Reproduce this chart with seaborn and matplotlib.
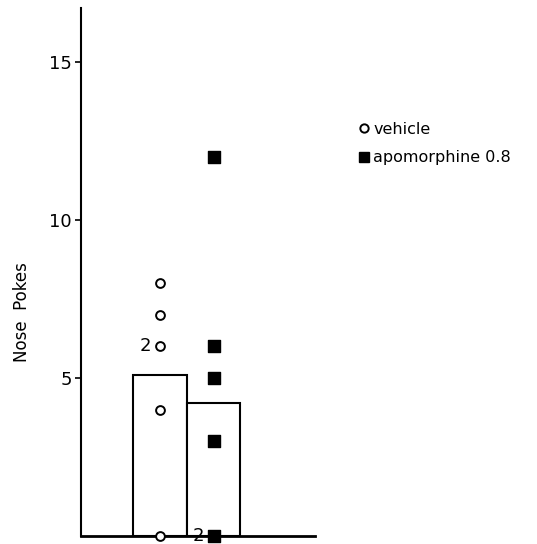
import matplotlib
matplotlib.use("Agg")
import matplotlib.pyplot as plt
import seaborn as sns
import pandas as pd
from matplotlib.lines import Line2D

# ── data ─────────────────────────────────────────────────────
groups       = ["vehicle", "apomorphine 0.8"]
bar_heights  = [5.1, 4.2]
vehicle_vals = [8, 7, 6, 4, 0]
vehicle_n    = [1, 1, 2, 1, 1]
apo_vals     = [12, 6, 5, 3, 0]
apo_n        = [1, 1, 1, 1, 2]
yticks       = [5, 10, 15]

sns.set_theme(style="white")
plt.rcParams["font.family"] = ["DejaVu Sans"]
plt.rcParams["text.color"] = "black"
plt.rcParams["axes.labelcolor"] = "black"

fig = plt.figure(figsize=(5.37, 5.44), dpi=100)
ax = fig.add_axes([0.151, 0.0147, 0.436, 0.9706])

bars = pd.DataFrame({"group": groups, "mean": bar_heights})
sns.barplot(data=bars, x="group", y="mean", color="white", edgecolor="black",
            linewidth=1.5, width=1.0, errorbar=None, ax=ax, zorder=1)

pts = pd.DataFrame({
    "x": [0] * len(vehicle_vals) + [1] * len(apo_vals),
    "y": vehicle_vals + apo_vals,
    "n": vehicle_n + apo_n,
    "group": [groups[0]] * len(vehicle_vals) + [groups[1]] * len(apo_vals),
})
veh = pts[pts["group"] == groups[0]]
apo = pts[pts["group"] == groups[1]]
ax.scatter(veh["x"], veh["y"], marker="o", s=40, facecolor="white",
           edgecolor="black", linewidth=1.4, zorder=3, clip_on=False)
ax.scatter(apo["x"], apo["y"], marker="s", s=72, color="black",
           zorder=3, clip_on=False)

# "2" = two animals at the same value
for _, r in pts[pts["n"] > 1].iterrows():
    ax.annotate(str(r["n"]), (r["x"], r["y"]), xytext=(-11, 0),
                textcoords="offset points", ha="center", va="center",
                fontsize=13, zorder=4, annotation_clip=False)

ax.set_xlim(-1.48, 2.9)
ax.set_ylim(0, 16.7)
ax.set_yticks(yticks)
ax.set_xticks([])
ax.set_xlabel("")
ax.set_ylabel("Nose  Pokes", fontsize=12)
ax.yaxis.set_label_coords(-0.215, 0.424)
ax.tick_params(axis="y", direction="out", length=4.5, width=1.2, pad=2,
               labelsize=13, left=True, colors="black")
for s in ["top", "right"]:
    ax.spines[s].set_visible(False)
ax.spines["left"].set_linewidth(1.5)
ax.spines["bottom"].set_linewidth(2)
ax.spines["left"].set_color("black")
ax.spines["bottom"].set_color("black")

handles = [
    Line2D([], [], marker="o", linestyle="", markersize=6, markerfacecolor="white",
           markeredgecolor="black", markeredgewidth=1.4, label=groups[0]),
    Line2D([], [], marker="s", linestyle="", markersize=7, color="black",
           label=groups[1]),
]
fig.legend(handles=handles, loc="upper left", bbox_to_anchor=(0.658, 0.788),
           frameon=False, fontsize=11.5, handlelength=0.5, handletextpad=0.35,
           labelspacing=0.85, borderaxespad=0, labelcolor="black")

plt.savefig("out.png", dpi=100)
plt.close()
